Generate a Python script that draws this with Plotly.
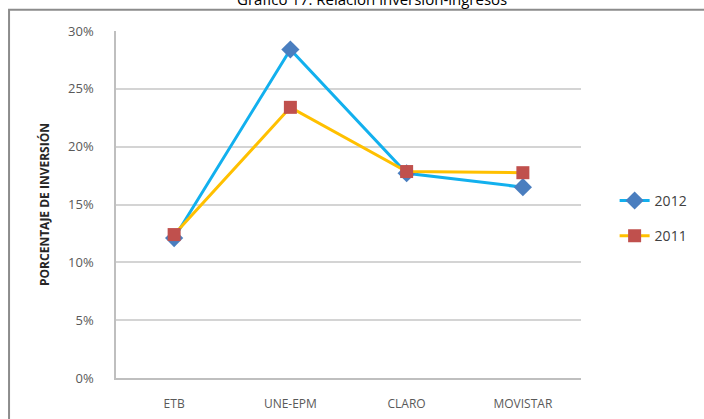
import plotly.graph_objects as go

categories = ["ETB", "UNE-EPM", "CLARO", "MOVISTAR"]
values_2012 = [12.1, 28.4, 17.7, 16.5]
values_2011 = [12.4, 23.4, 17.85, 17.75]
tick_vals = [0, 5, 10, 15, 20, 25, 30]
tick_text = ["0%", "5%", "10%", "15%", "20%", "25%", "30%"]

fig = go.Figure()
fig.add_trace(go.Scatter(
    x=categories, y=values_2012, name="2012", mode="lines+markers",
    legendgroup="a",
    line=dict(color="#12B0EE", width=3),
    marker=dict(symbol="diamond", size=14, color="#4A7EBF"),
))
fig.add_trace(go.Scatter(
    x=categories, y=values_2011, name="2011", mode="lines+markers",
    legendgroup="b",
    line=dict(color="#FFC000", width=3),
    marker=dict(symbol="square", size=13, color="#C0504D"),
))

fig.update_layout(
    width=704, height=419,
    margin=dict(l=116, r=122, t=31, b=41),
    paper_bgcolor="white", plot_bgcolor="white",
    font=dict(family="Open Sans, Liberation Sans, sans-serif", color="#595959", size=12),
    showlegend=True,
    legend=dict(x=1.07, y=0.46, xanchor="left", yanchor="middle",
                font=dict(size=14, color="#404040"), tracegroupgap=14,
                bgcolor="rgba(0,0,0,0)"),
    xaxis=dict(type="category", range=[-0.5, 3.5], showgrid=False,
               showline=True, linecolor="#BFBFBF", linewidth=1.5,
               ticks="", ticklabelstandoff=14, automargin=False,
               tickfont=dict(size=12, color="#595959"), fixedrange=True),
    yaxis=dict(range=[0, 30], tickvals=tick_vals, ticktext=tick_text,
               showgrid=True, gridcolor="#D4D4D4", gridwidth=1.5,
               showline=True, linecolor="#BFBFBF", linewidth=1.5,
               ticks="", ticklabelstandoff=18, automargin=False,
               tickfont=dict(size=13, color="#595959"),
               zeroline=False,
               title=dict(text="<b>PORCENTAJE DE INVERSIÓN</b>",
                          font=dict(size=12, color="#262626"), standoff=16)),
    shapes=[dict(type="rect", xref="paper", yref="paper",
                 x0=-0.230, x1=1.3, y0=-0.2, y1=1.061,
                 line=dict(color="#8C8C8C", width=2), layer="above")],
    annotations=[dict(text="Gráfico 17: Relación inversión-ingresos",
                      xref="paper", yref="paper", x=0.55, y=1.093,
                      xanchor="center", yanchor="middle", showarrow=False,
                      font=dict(size=15, color="#000000"))],
)

fig.write_html("out.html", config={"displayModeBar": False},
               post_script="document.body.style.margin='0';")
